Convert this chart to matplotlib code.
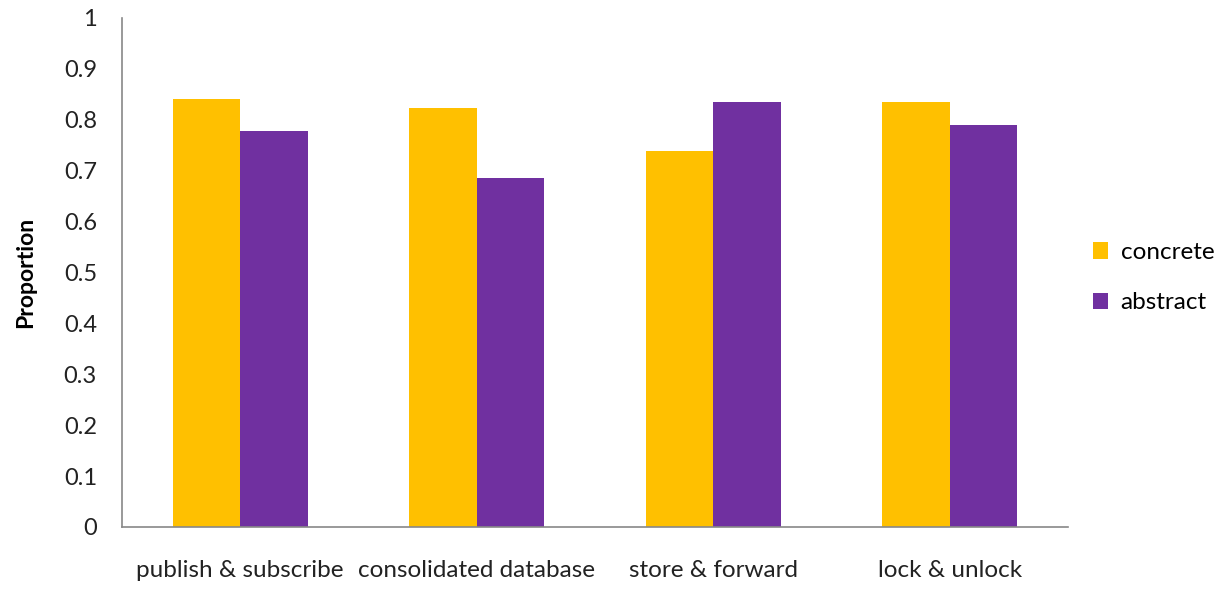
import numpy as np
import matplotlib.pyplot as plt

# proportions per pattern
categories = ['publish & subscribe', 'consolidated database', 'store & forward', 'lock & unlock']
concrete = [0.841, 0.823, 0.738, 0.834]
abstract = [0.778, 0.685, 0.834, 0.789]
yticks = [0, 0.1, 0.2, 0.3, 0.4, 0.5, 0.6, 0.7, 0.8, 0.9, 1]
ytick_labels = ['0', '0.1', '0.2', '0.3', '0.4', '0.5', '0.6', '0.7', '0.8', '0.9', '1']

plt.rcParams['font.family'] = ['Lato', 'DejaVu Sans']

fig = plt.figure(figsize=(12.26, 5.9), dpi=100)
ax = fig.add_axes([0.0995, 0.1068, 0.7715, 0.8627])

x = np.arange(len(categories))
w = 1 / 3.5
ax.bar(x - w / 2, concrete, w, color='#FFC000', label='concrete')
ax.bar(x + w / 2, abstract, w, color='#7030A0', label='abstract')

ax.set_xlim(-0.5, len(categories) - 0.5)
ax.set_ylim(0, 1)
ax.set_yticks(yticks)
ax.set_yticklabels(ytick_labels, fontsize=17, color='#222222')
ax.set_xticks(x)
ax.set_xticklabels(categories, fontsize=17.5, color='#222222')
ax.tick_params(axis='y', length=0, pad=18)
ax.tick_params(axis='x', length=0, pad=24)

for s in ['top', 'right']:
    ax.spines[s].set_visible(False)
for s in ['left', 'bottom']:
    ax.spines[s].set_color('#888888')
    ax.spines[s].set_linewidth(1.2)

ax.set_ylabel('Proportion', fontsize=16.5, fontweight='bold', labelpad=20)

ax.legend(loc='center left', bbox_to_anchor=(1.003, 0.49), frameon=False,
          fontsize=17.5, handlelength=0.65, handleheight=0.65, handletextpad=0.5,
          labelspacing=1.2)

fig.savefig('out.png', dpi=100)
